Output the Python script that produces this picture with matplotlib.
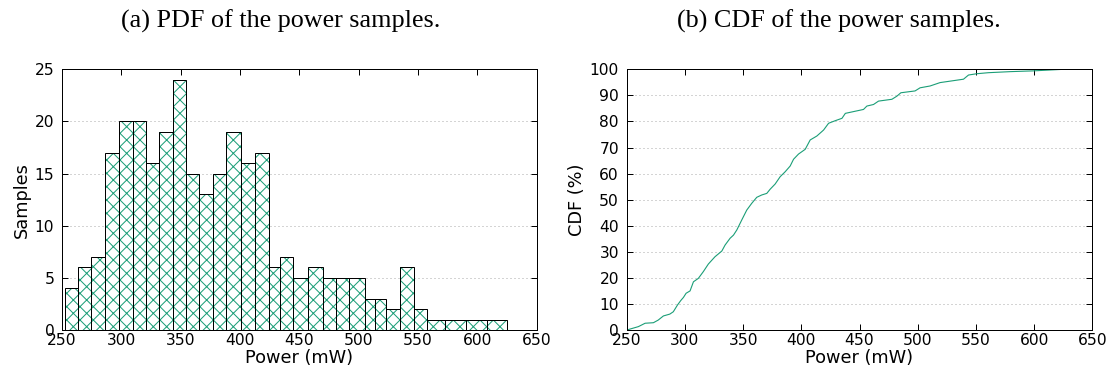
import numpy as np
import matplotlib
matplotlib.use('Agg')
import matplotlib.pyplot as plt
from matplotlib.ticker import MultipleLocator

# Histogram of the power samples: bin edges (mW) and counts per bin
bin_edges = [252.2, 263.2, 274.1, 286.5, 298.3, 309.5, 320.8, 332.0, 343.3,
             354.6, 365.8, 377.3, 388.5, 400.9, 412.4, 424.2, 433.5, 444.8,
             457.1, 469.7, 481.3, 491.7, 505.1, 514.2, 523.2, 534.7, 546.5,
             557.8, 572.6, 590.6, 608.4, 625.2]
counts = [4, 6, 7, 17, 20, 20, 16, 19, 24, 15, 13, 15, 19, 16, 17,
          6, 7, 5, 6, 5, 5, 5, 3, 3, 2, 6, 2, 1, 1, 1, 1]

# Empirical CDF of the same samples
cdf_power = [250, 260, 265.8, 272.9, 277, 281.5, 287, 290, 293.6, 296.4,
             298.7, 301, 304.4, 307.3, 311.5, 315.8, 320.1, 325.8, 331.7,
             334.5, 338.8, 341.7, 344.6, 348.8, 353.1, 357.4, 361.7, 366,
             370.3, 373.2, 377.5, 381.8, 386.1, 390.4, 393.3, 397.6, 403.3,
             407.6, 413.3, 419.1, 423.4, 429.2, 434.9, 437.8, 453.4, 456.3,
             462, 466.3, 477.8, 482.1, 485.5, 497.7, 502.0, 510.6, 519.2,
             539.3, 543.6, 550.7, 560.8, 579.4, 599.4, 625.2]
cdf_pct = [0, 1.3, 2.6, 2.8, 3.8, 5.4, 6.1, 7.0, 9.6, 11.3,
           12.5, 14.1, 15.0, 18.5, 19.8, 22.4, 25.3, 28.1, 30.3,
           32.6, 35.2, 36.4, 38.4, 42.2, 46.0, 48.6, 50.9, 51.8,
           52.4, 54.0, 56.0, 58.8, 60.7, 62.9, 65.5, 67.5, 69.3,
           72.9, 74.4, 76.7, 79.3, 80.3, 81.2, 83.1, 84.6, 85.9,
           86.5, 87.8, 88.5, 89.7, 91.0, 91.7, 92.9, 93.6, 94.9,
           96.2, 97.8, 98.3, 98.7, 99.1, 99.4, 100]

green = '#1b9e77'
plt.rcParams['font.family'] = 'DejaVu Sans'
plt.rcParams['hatch.linewidth'] = 0.9
plt.rcParams['hatch.color'] = green
plt.rcParams['axes.linewidth'] = 0.9

DPI = 80
fig = plt.figure(figsize=(1116 / DPI, 376 / DPI), dpi=DPI)
ax1 = fig.add_axes([0.0556, 0.1223, 0.4252, 0.6934])
ax2 = fig.add_axes([0.5616, 0.1223, 0.4172, 0.6934])


def style(ax):
    ax.tick_params(direction='in', length=5, width=0.9, top=True, right=True,
                   labelsize=14)
    ax.tick_params(axis='y', pad=7)
    ax.tick_params(axis='x', pad=3)
    ax.grid(axis='y', linestyle=(0, (1, 3)), color='#aaaaaa', linewidth=0.9)
    ax.set_axisbelow(True)
    ax.set_xlim(250, 650)
    ax.xaxis.set_major_locator(MultipleLocator(50))
    ax.set_xlabel('Power (mW)', fontsize=16, labelpad=1)


# (a) histogram
left = np.array(bin_edges[:-1])
widths = np.diff(bin_edges)
ax1.bar(left, counts, width=widths, align='edge', color='white',
        edgecolor=green, hatch='xx', linewidth=0)
ax1.bar(left, counts, width=widths, align='edge', fill=False,
        edgecolor='black', linewidth=0.9)
style(ax1)
ax1.set_ylim(0, 25)
ax1.yaxis.set_major_locator(MultipleLocator(5))
ax1.set_ylabel('Samples', fontsize=16, labelpad=3)

# (b) CDF
ax2.plot(cdf_power, cdf_pct, color=green, linewidth=1.0)
style(ax2)
ax2.set_ylim(0, 100)
ax2.yaxis.set_major_locator(MultipleLocator(10))
ax2.set_ylabel('CDF (%)', fontsize=16, labelpad=3)

fig.text(281 / 1116, 1 - 21 / 376, '(a) PDF of the power samples.',
         ha='center', va='center', family='Liberation Serif', fontsize=23.5)
fig.text(839 / 1116, 1 - 21 / 376, '(b) CDF of the power samples.',
         ha='center', va='center', family='Liberation Serif', fontsize=23.5)

fig.savefig('out.png', dpi=DPI)
